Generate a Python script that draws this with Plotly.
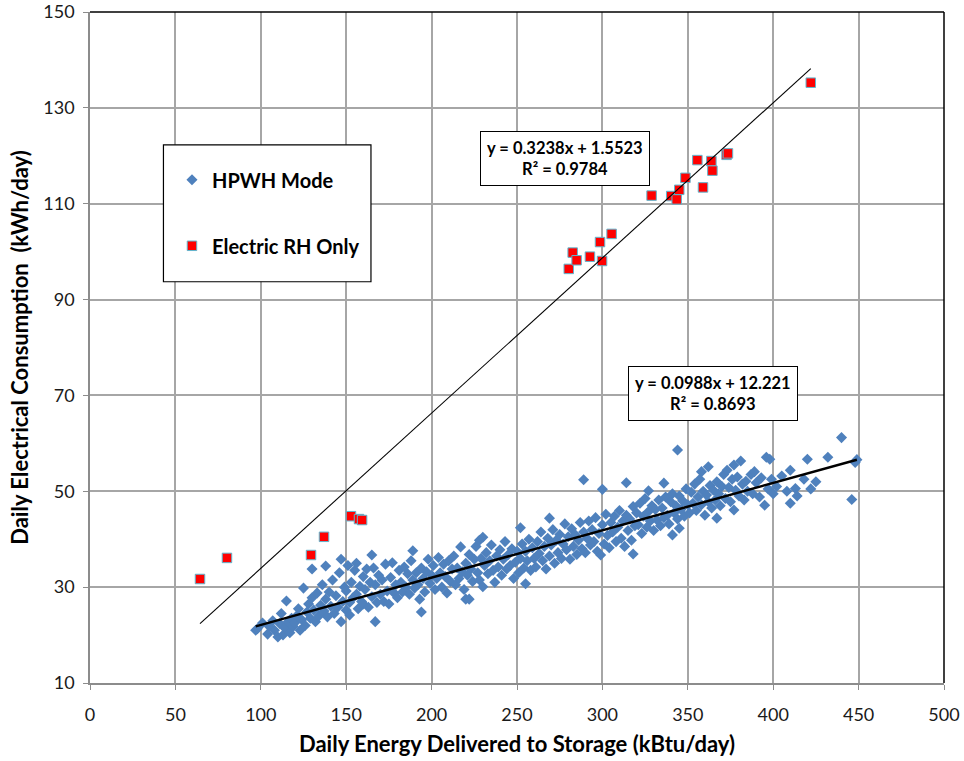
import plotly.graph_objects as go

# HPWH mode: daily energy delivered to storage (kBtu/day) vs daily electrical use (kWh/day)
hpwh_points = [
    (97, 21.0), (98, 21.3), (101, 22.5), (104, 20.2), (105, 21.8), (107, 23.0), (108, 21.0),
    (110, 19.6), (111, 22.4), (112, 24.5), (113, 20.0), (114, 21.5),
    (115, 27.1), (116, 22.8), (117, 20.5), (118, 23.5), (119, 21.8), (120, 22.6), (121, 24.0),
    (122, 25.5), (123, 21.0), (124, 23.2), (125, 29.8), (126, 22.0),
    (127, 24.8), (128, 26.5), (129, 23.5), (130, 33.8), (130, 27.8), (131, 25.2), (132, 22.8),
    (133, 28.8), (134, 24.0), (135, 26.2), (136, 30.5), (137, 25.0), (138, 34.4), (138, 27.5),
    (139, 23.8), (140, 29.0),
    (141, 26.0), (142, 31.5), (143, 24.5), (144, 28.2), (145, 25.8), (146, 33.0), (147, 35.8),
    (147, 22.8), (148, 27.0), (149, 30.0), (150, 25.2), (150, 29.2), (151, 34.5), (152, 26.8),
    (152, 24.2), (153, 31.0), (154, 27.8), (155, 33.5),
    (156, 35.0), (156, 28.5), (157, 25.5), (158, 30.2), (159, 27.0), (160, 32.2), (160, 26.5),
    (161, 29.5), (162, 33.8), (163, 25.8), (164, 31.0), (165, 36.7), (165, 28.0), (166, 34.0),
    (167, 22.8), (167, 30.5), (168, 26.8), (169, 32.5), (170, 28.5),
    (171, 31.5), (172, 27.0), (173, 34.8), (174, 29.2), (175, 26.5), (176, 32.0), (177, 35.1),
    (178, 28.8), (179, 30.5), (180, 27.8), (181, 33.5), (182, 31.0), (183, 29.0), (184, 34.2),
    (185, 30.0),
    (186, 32.8), (187, 28.5), (188, 35.5), (189, 37.6), (189, 31.5), (190, 29.8), (191, 33.0),
    (192, 30.5), (193, 27.5), (194, 24.8), (194, 34.0), (195, 31.8), (196, 29.0), (197, 33.2),
    (198, 35.8), (199, 30.8), (200, 32.5),
    (201, 34.5), (202, 29.5), (203, 31.8), (204, 36.2), (205, 33.0), (206, 30.0), (207, 34.8),
    (208, 32.2), (209, 28.8), (210, 35.5), (211, 31.2), (212, 33.8), (213, 36.5), (214, 30.5),
    (215, 34.0),
    (216, 31.8), (217, 38.4), (218, 33.2), (219, 29.5), (220, 27.5), (220, 35.0), (221, 32.5),
    (222, 27.5), (222, 36.8), (223, 33.8), (224, 31.2), (225, 35.8), (226, 38.5), (227, 33.0),
    (228, 39.8), (228, 31.5), (229, 36.0), (230, 40.4), (230, 30.1),
    (231, 34.5), (232, 37.2), (233, 32.8), (234, 35.5), (235, 38.8), (236, 33.5), (237, 31.0),
    (238, 36.5), (239, 34.2), (240, 37.8), (241, 32.5), (242, 35.8), (243, 39.5), (244, 33.8),
    (245, 36.8),
    (246, 34.5), (247, 38.0), (248, 31.8), (249, 35.2), (250, 37.5), (251, 33.0), (252, 42.4),
    (252, 36.0), (253, 39.0), (254, 34.0), (255, 30.7), (255, 37.5), (256, 35.5), (257, 40.0),
    (258, 33.5), (259, 38.2), (260, 36.0),
    (261, 34.2), (262, 39.5), (263, 37.0), (264, 41.5), (265, 35.5), (266, 38.5), (267, 33.8),
    (268, 40.2), (269, 44.4), (269, 36.5), (270, 38.8), (271, 42.0), (272, 35.0), (273, 39.8),
    (274, 37.2), (275, 41.0),
    (276, 36.0), (277, 39.0), (278, 43.2), (279, 37.8), (280, 40.5), (281, 35.8), (282, 42.2),
    (283, 38.5), (284, 41.0), (285, 36.8), (286, 39.8), (287, 43.5), (288, 38.0), (289, 52.4),
    (289, 41.5), (290, 37.2),
    (291, 40.2), (292, 43.8), (293, 38.8), (294, 42.0), (295, 39.5), (296, 44.5), (297, 37.5),
    (298, 41.2), (299, 36.7), (300, 50.4), (300, 43.0), (301, 39.0), (302, 45.2), (303, 40.8),
    (304, 38.2), (305, 43.5),
    (306, 41.5), (307, 44.8), (308, 39.5), (309, 42.5), (310, 46.0), (311, 40.2), (312, 43.8),
    (313, 38.5), (314, 51.8), (314, 45.0), (315, 41.8), (316, 44.2), (317, 39.8), (318, 36.9),
    (318, 46.8), (319, 42.8), (320, 45.5),
    (321, 43.0), (322, 47.5), (323, 41.2), (324, 44.8), (325, 48.5), (326, 42.5), (327, 50.1),
    (327, 45.8), (328, 43.8), (329, 47.0), (330, 41.8), (331, 46.2), (332, 44.0), (333, 48.2),
    (334, 42.8), (335, 46.5),
    (336, 51.7), (336, 44.5), (337, 48.8), (338, 45.0), (339, 43.2), (340, 47.8), (341, 40.9),
    (341, 49.5), (342, 45.5), (343, 47.0), (344, 58.6), (344, 44.2), (345, 42.3), (345, 49.0),
    (346, 46.2), (347, 48.0), (348, 44.8), (349, 50.5), (350, 47.2),
    (351, 45.5), (352, 49.8), (353, 47.5), (354, 51.5), (355, 46.0), (356, 48.8), (357, 52.5),
    (358, 54.1), (358, 47.2), (359, 50.0), (360, 45.0), (361, 49.2), (362, 55.1), (362, 47.8),
    (363, 51.2), (364, 46.5), (365, 50.2),
    (366, 48.2), (367, 44.4), (367, 52.0), (368, 49.5), (369, 47.0), (370, 51.0), (371, 53.5),
    (372, 48.5), (373, 54.4), (374, 50.8), (375, 47.8), (376, 52.5), (377, 55.5), (377, 46.1),
    (378, 50.2), (379, 53.0), (380, 49.0),
    (381, 56.3), (382, 51.5), (383, 48.2), (384, 52.1), (385, 50.0), (387, 53.5), (388, 49.5),
    (389, 54.1), (390, 51.8), (392, 48.8), (393, 52.8), (395, 47.1), (396, 57.1), (397, 50.5),
    (398, 56.7), (399, 52.5), (400, 49.5),
    (402, 51.0), (405, 53.2), (408, 50.0), (410, 54.4), (410, 47.5), (413, 50.6), (414, 49.0),
    (418, 52.5), (420, 56.7), (422, 50.5), (425, 52.0), (432, 57.1), (440, 61.2), (446, 48.3),
    (448, 56.0), (449, 56.6),
]
hpwh_x = [p[0] for p in hpwh_points]
hpwh_y = [p[1] for p in hpwh_points]

# Electric resistance heating only
rh_x = [64.4, 80.2, 129.4, 137.0, 152.8, 157.5, 159.3, 280.3, 282.6, 284.9, 292.7, 298.6,
        299.8, 305.4, 328.8, 340.3, 343.5, 345.0, 348.6, 355.6, 358.9, 363.8, 364.4, 372.7,
        373.5, 422.0]
rh_y = [31.7, 36.1, 36.7, 40.5, 44.8, 44.2, 44.0, 96.4, 99.8, 98.2, 98.95, 102.0,
        98.05, 103.7, 111.7, 111.6, 110.9, 112.9, 115.4, 119.1, 113.4, 118.9, 116.9, 120.2,
        120.5, 135.25]

# Linear trendline coefficients (slope, intercept, R²)
hpwh_fit = (0.0988, 12.221, 0.8693)
rh_fit = (0.3238, 1.5523, 0.9784)

x_ticks = [0, 50, 100, 150, 200, 250, 300, 350, 400, 450, 500]
y_ticks = [10, 30, 50, 70, 90, 110, 130, 150]

FONT = "Lato, Roboto, sans-serif"


def fit_line(xs, fit):
    lo, hi = min(xs), max(xs)
    return [lo, hi], [fit[0] * lo + fit[1], fit[0] * hi + fit[1]]


fig = go.Figure()

fig.add_trace(go.Scatter(
    x=hpwh_x, y=hpwh_y, mode="markers", name="HPWH Mode", legendgroup="a",
    marker=dict(symbol="diamond", size=8.5, color="#4f81bd", line=dict(width=0)),
))
fig.add_trace(go.Scatter(
    x=rh_x, y=rh_y, mode="markers", name="Electric RH Only", legendgroup="b",
    marker=dict(symbol="square", size=9.5, color="#ff0000", line=dict(width=1, color="#5fb6cf")),
))

lx, ly = fit_line(rh_x, rh_fit)
fig.add_trace(go.Scatter(x=lx, y=ly, mode="lines", showlegend=False,
                         line=dict(color="black", width=1.1)))
lx, ly = fit_line(hpwh_x, hpwh_fit)
fig.add_trace(go.Scatter(x=lx, y=ly, mode="lines", showlegend=False,
                         line=dict(color="black", width=2.5)))

axis_common = dict(
    showgrid=True, gridcolor="#a6a6a6", gridwidth=1.5,
    showline=True, linecolor="#8c8c8c", linewidth=1.5,
    ticks="outside", ticklen=5, tickcolor="#8c8c8c",
    tickfont=dict(family=FONT, size=18, color="#1a1a1a"),
    zeroline=False, ticklabeloverflow="allow", automargin=False,
)

fig.update_layout(
    width=964, height=761,
    margin=dict(l=90, r=20, t=12, b=78),
    plot_bgcolor="white", paper_bgcolor="white",
    hovermode=False,
    xaxis=dict(range=[0, 500], tickvals=x_ticks, ticklabelstandoff=10, **axis_common,
               title=dict(text="<b>Daily Energy Delivered to Storage (kBtu/day)</b>",
                          font=dict(family=FONT, size=22, color="black"), standoff=12)),
    yaxis=dict(range=[10, 150], tickvals=y_ticks, ticklabelstandoff=5, **axis_common,
               title=dict(text="<b>Daily Electrical Consumption&nbsp; (kWh/day)</b>",
                          font=dict(family=FONT, size=22, color="black"), standoff=9)),
    legend=dict(
        x=0.096, y=0.779, xanchor="left", yanchor="top",
        bgcolor="rgba(0,0,0,0)", borderwidth=0,
        font=dict(family=FONT, size=20, color="black", weight="bold"),
        tracegroupgap=37, itemsizing="trace",
    ),
    shapes=[
        dict(type="rect", xref="paper", yref="paper", x0=0.086, x1=0.329, y0=0.598, y1=0.802,
             fillcolor="white", line=dict(color="black", width=1.2), layer="above"),
        dict(type="line", xref="paper", yref="paper", x0=0, x1=1, y0=1, y1=1,
             line=dict(color="black", width=1.5)),
        dict(type="line", xref="paper", yref="paper", x0=1, x1=1, y0=0, y1=1,
             line=dict(color="black", width=1.5)),
    ],
)


def eq_text(fit):
    return (f"<b>y = {fit[0]:.4f}x + {fit[1]:g}</b><br><b>R² = {fit[2]:.4f}</b>")


for fit, (ax, ay) in [(rh_fit, (0.556, 0.782)), (hpwh_fit, (0.7295, 0.432))]:
    fig.add_annotation(
        xref="paper", yref="paper", x=ax, y=ay, xanchor="center", yanchor="middle",
        text=eq_text(fit), showarrow=False, align="center",
        font=dict(family=FONT, size=16.5, color="black"),
        bgcolor="white", bordercolor="black", borderwidth=1, borderpad=6,
    )

fig.write_html("out.html")
